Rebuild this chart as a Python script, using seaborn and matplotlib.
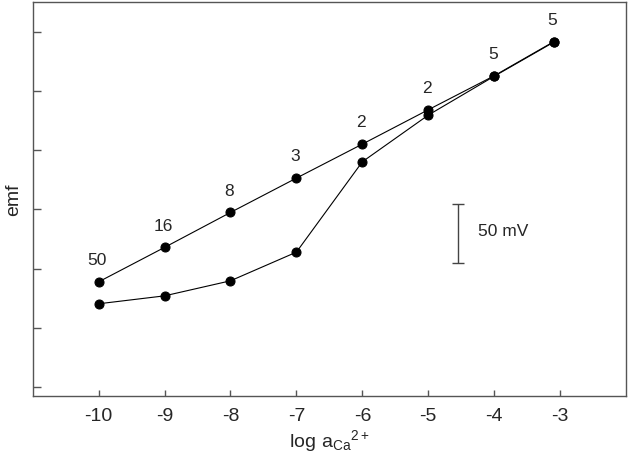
import pandas as pd
import seaborn as sns
import matplotlib.pyplot as plt

# log activity of Ca2+ and emf readings (mV, relative scale)
log_ca = [-10, -9, -8, -7, -6, -5, -4, -3.1]
emf_upper = [88.9, 118.0, 147.5, 176.5, 205.2, 234.2, 262.9, 291.6]
emf_lower = [70.4, 77.1, 89.8, 114.0, 190.3, 229.7, 262.5, 291.2]
point_labels = ['50', '16', '8', '3', '2', '2', '5', '5']
x_ticks = [-10, -9, -8, -7, -6, -5, -4, -3]
y_ticks = [0, 50, 100, 150, 200, 250, 300]

sns.set_style('ticks')
plt.rcParams['font.family'] = ['Liberation Sans', 'DejaVu Sans']
plt.rcParams['mathtext.fontset'] = 'custom'
plt.rcParams['mathtext.rm'] = 'Liberation Sans'

df = pd.concat([
    pd.DataFrame({'log_ca': log_ca, 'emf': emf_upper, 'run': 'upper'}),
    pd.DataFrame({'log_ca': log_ca, 'emf': emf_lower, 'run': 'lower'}),
])

fig = plt.figure(figsize=(6.28, 4.56), dpi=100)
ax = fig.add_axes([0.052, 0.129, 0.945, 0.865])

sns.lineplot(data=df, x='log_ca', y='emf', units='run', estimator=None, sort=False,
             color='black', linewidth=0.8, marker='o', markersize=6.5,
             markeredgecolor='black', ax=ax)

for x, y, lab in zip(log_ca, emf_upper, point_labels):
    ax.annotate(lab, (x, y), xytext=(-1, 16), textcoords='offset points',
                ha='center', va='center', fontsize=12.5)

# 50 mV scale bar
ax.errorbar([-4.55], [130], yerr=[25], color='#444444', capsize=4, linewidth=1,
            capthick=1)
ax.text(-4.24, 132, '50 mV', fontsize=12.5, va='center', ha='left')

ax.set_xlim(-11, -2)
ax.set_ylim(-7.6, 325.4)
ax.set_xticks(x_ticks)
ax.set_xticklabels([str(t) for t in x_ticks])
ax.set_yticks(y_ticks)
ax.set_yticklabels([])
ax.tick_params(axis='x', direction='in', length=4, width=1, color='#555555',
               labelsize=14, pad=8)
ax.tick_params(axis='y', direction='in', length=6, width=1, color='#555555')
for side in ['top', 'right', 'left', 'bottom']:
    ax.spines[side].set_visible(True)
    ax.spines[side].set_color('#555555')
    ax.spines[side].set_linewidth(1)

ax.set_xlabel(r'$\mathregular{log\ a_{Ca}{}^{2+}}$', fontsize=14, labelpad=2)
ax.set_ylabel('emf', fontsize=14, labelpad=4)

fig.savefig('out.png', dpi=100)
